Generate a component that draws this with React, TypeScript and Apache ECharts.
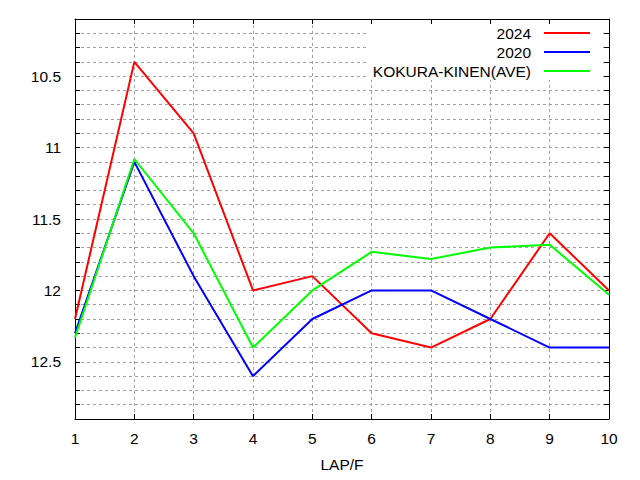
import React, { useEffect, useRef } from "react";
import * as echarts from "echarts";

const laps = [1, 2, 3, 4, 5, 6, 7, 8, 9, 10];
const series2024 = [12.2, 10.4, 10.9, 12.0, 11.9, 12.3, 12.4, 12.2, 11.6, 12.0];
const series2020 = [12.3, 11.1, 11.9, 12.6, 12.2, 12.0, 12.0, 12.2, 12.4, 12.4];
const seriesAve = [12.33, 11.08, 11.6, 12.4, 12.0, 11.73, 11.78, 11.7, 11.68, 12.03];
const seriesNames = ["2024", "2020", "KOKURA-KINEN(AVE)"];
const seriesColors = ["#ff0000", "#0000ff", "#00ff00"];

const FONT = "Liberation Sans";
const FS = 15.5;

export default function App() {
  const ref = useRef<HTMLDivElement>(null);
  useEffect(() => {
    if (!ref.current) return;
    const chart = echarts.init(ref.current, undefined, { renderer: "svg" });
    const grid = { left: 75, top: 19, width: 534, height: 400 };
    const dashed = { show: true, lineStyle: { color: "#a0a0a0", width: 1, type: [3, 3] as any } };
    const tick = { show: true, inside: true, length: 5, lineStyle: { color: "#000", width: 1 } };
    const axisLine = { show: true, lineStyle: { color: "#000", width: 1 } };
    const datas = [series2024, series2020, seriesAve];
    const legendTops = [25, 44, 63];
    chart.setOption({
      animation: false,
      backgroundColor: "#fff",
      textStyle: { fontFamily: FONT },
      grid,
      xAxis: [
        {
          type: "value",
          min: 1,
          max: 10,
          interval: 1,
          position: "bottom",
          axisLine,
          axisTick: tick,
          splitLine: dashed,
          axisLabel: { color: "#000", fontSize: FS, fontFamily: FONT, margin: 11 },
          name: "LAP/F",
          nameLocation: "middle",
          nameGap: 37,
          nameTextStyle: { color: "#000", fontSize: FS, fontFamily: FONT },
        },
        {
          type: "value",
          min: 1,
          max: 10,
          interval: 1,
          position: "top",
          axisLine,
          axisTick: tick,
          splitLine: { show: false },
          axisLabel: { show: false },
        },
      ],
      yAxis: [
        {
          type: "value",
          inverse: true,
          min: 10.1,
          max: 12.9,
          interval: 0.1,
          position: "left",
          axisLine,
          axisTick: tick,
          splitLine: dashed,
          axisLabel: {
            color: "#000",
            fontSize: FS,
            fontFamily: FONT,
            margin: 14,
            formatter: (v: number) => {
              const t = Math.round(v * 10);
              return t % 5 === 0 ? String(t / 10) : "";
            },
          },
        },
        {
          type: "value",
          inverse: true,
          min: 10.1,
          max: 12.9,
          interval: 0.1,
          position: "right",
          axisLine,
          axisTick: tick,
          splitLine: { show: false },
          axisLabel: { show: false },
        },
      ],
      legend: seriesNames.map((n, i) => ({
        data: [n],
        right: 50,
        top: legendTops[i],
        padding: 0,
        align: "right",
        icon: "rect",
        itemWidth: 46,
        itemHeight: 2,
        selectedMode: false,
        textStyle: { color: "#000", fontSize: FS, fontFamily: FONT, lineHeight: 15, padding: [0, 8, 0, 0] },
      })),
      graphic: [
        {
          type: "rect",
          z: 1,
          shape: { x: 368, y: 25, width: 232, height: 55 },
          style: { fill: "#fff" },
          silent: true,
        },
      ],
      series: seriesNames.map((n, i) => ({
        name: n,
        type: "line",
        xAxisIndex: 0,
        yAxisIndex: 0,
        symbol: "none",
        color: seriesColors[i],
        lineStyle: { color: seriesColors[i], width: 2 },
        data: laps.map((x, j) => [x, datas[i][j]]),
        z: 3,
      })),
    });
    return () => chart.dispose();
  }, []);
  return (
    <div
      ref={ref}
      style={{ position: "absolute", left: 0, top: 0, width: 640, height: 480 }}
    />
  );
}
